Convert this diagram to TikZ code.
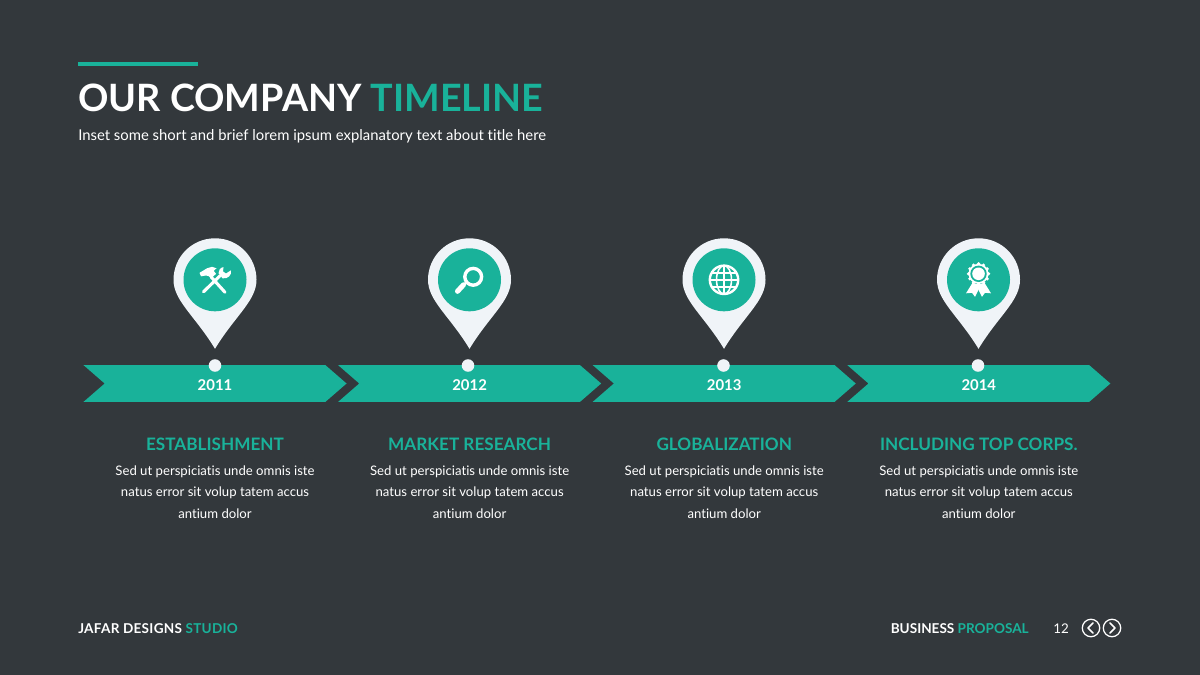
\documentclass[tikz,border=0pt]{standalone}
\usepackage{fontspec}
\setmainfont[Ligatures=NoCommon]{Lato}
\usetikzlibrary{positioning,shapes}
\definecolor{slate}{HTML}{33383C}
\definecolor{teal}{HTML}{19B29A}
\definecolor{pale}{HTML}{F0F4F8}
\newlength{\pxu}
\setlength{\pxu}{0.7087pt}
\tikzstyle{chevron}=[signal, signal from=west, signal to=east, signal pointer angle=82, fill=teal, text=white,
        inner sep=0pt, minimum width=264\pxu, minimum height=37\pxu, text height=9.6pt, text depth=0pt,
        font=\fontsize{10.6}{12}\bfseries\selectfont]
\tikzstyle{dot}=[circle, fill=pale, inner sep=0pt, minimum size=12.6\pxu]
\tikzstyle{heading}=[text=teal, inner sep=0pt, font=\fontsize{12.2}{14}\bfseries\selectfont]
\tikzstyle{blurb}=[text=white, inner sep=0pt, align=center, font=\fontsize{9.36}{15.4}\selectfont]
\tikzstyle{footer}=[text=white, inner sep=0pt, font=\fontsize{9.65}{11}\bfseries\selectfont]
\tikzstyle{navring}=[circle, draw=white, line width=0.9pt, inner sep=0pt, minimum size=17.5\pxu]
\tikzstyle{navmark}=[draw=white, line width=1.1pt, line join=round, line cap=round]
\tikzset{
  pinhead/.pic={
    \fill[pale] (-41.5,0) .. controls (-41.5,-23) and (-23,-41.5) .. (0,-41.5)
      .. controls (23,-41.5) and (41.5,-23) .. (41.5,0)
      .. controls (41.5,21) and (20,36) .. (0,69)
      .. controls (-20,36) and (-41.5,21) .. (-41.5,0) -- cycle;
    \fill[teal] (0,0) circle (31.5);
  },
  toolsicon/.pic={
    \draw[white, line width=2.2pt, line cap=round] (-4,-3) -- (10,12.5);
    \fill[white] (-15.5,-7) -- (-8,-11.5) -- (-3,-13) -- (1.5,-11.5) -- (-1.3,-9) -- (1,-6) -- (-3.7,-1.5) -- (-6.3,-3.7) -- (-9,-4.3) -- (-14,-3.5) -- cycle;
    \draw[white, line width=2.2pt, line cap=round] (-11.5,12) -- (5,-4);
    \fill[white] (3.5,-6.5) .. controls (3.5,-9.5) and (5,-12) .. (8.5,-12.8) -- (8,-8.3) -- (11,-6.3) -- (16,-9.5)
      .. controls (17,-4.5) and (12.5,-0.5) .. (7.5,-1.5) -- cycle;
  },
  searchicon/.pic={
    \draw[white, line width=2.4pt] (3.7,-3) circle (8.4);
    \draw[white, line width=1.6pt] (-2,1.8) -- (-5.5,4.5);
    \draw[white, line width=3.6pt, line cap=round] (-6,5) -- (-12,11.5);
  },
  globeicon/.pic={
    \draw[white, line width=1.7pt] (0,0) circle (14.2);
    \draw[white, line width=1.1pt] (0,0) ellipse (7.5 and 14.2);
    \draw[white, line width=1.1pt] (0,-14) -- (0,14);
    \draw[white, line width=1.1pt] (-14,0) -- (14,0);
    \draw[white, line width=1.1pt] (-12,-7) -- (12,-7);
    \draw[white, line width=1.1pt] (-12,7) -- (12,7);
  },
  awardicon/.pic={
    \fill[white] (-6,3) -- (-12.5,13.5) -- (-6.5,13) -- (-3.5,17) -- (0,10) -- (2,5) -- cycle;
    \fill[white] (6,3) -- (12.5,13.5) -- (6.5,13) -- (3.5,17) -- (0,10) -- (-2,5) -- cycle;
    \fill[white] (0,-6) circle (10);
    \foreach \a in {0,30,...,330}
      \fill[white] (\a:10) ++(0,-6) circle (1.8);
    \fill[teal] (0,-6) circle (8.2);
    \fill[white] (0,-6) circle (6.3);
  }
}
\begin{document}
\begin{tikzpicture}[x=0.025cm, y=-0.025cm]
        \useasboundingbox (0,0) rectangle (1200,675);
        \fill[slate] (0,0) rectangle (1200,675);
        % title block
        \fill[teal] (78,62.5) rectangle (198,66.5);
        \node (title) [text=white, inner sep=0pt, anchor=base west, font=\fontsize{26.8}{32}\bfseries\selectfont] at (78,112)
        {OUR COMPANY \textcolor{teal}{TIMELINE}};
        \node (subtitle) [text=white, inner sep=0pt, anchor=base west, font=\fontsize{10.57}{13}\selectfont] at (78,141)
        {Inset some short and brief lorem ipsum explanatory text about title here};
        % pins
        \pic at (215,279.8) {pinhead};
        \pic at (215,279.8) {toolsicon};
        \pic at (469.5,279.8) {pinhead};
        \pic at (469.5,279.8) {searchicon};
        \pic at (724,279.8) {pinhead};
        \pic at (724,279.8) {globeicon};
        \pic at (978.5,279.8) {pinhead};
        \pic at (978.5,279.8) {awardicon};
        % years
        \node (y2011) [chevron] at (215,383.5) {2011};
        \node (y2012) [chevron] at (469.6,383.5) {2012};
        \node (y2013) [chevron] at (724.2,383.5) {2013};
        \node (y2014) [chevron] at (978.8,383.5) {2014};
        \node (dotA) [dot] at (215,365.5) {};
        \node (dotB) [dot] at (468,365.5) {};
        \node (dotC) [dot] at (723.5,365.5) {};
        \node (dotD) [dot] at (978,365.5) {};
        % captions
        \node (headA) [heading] at (215,444) {ESTABLISHMENT};
        \node (headB) [heading] at (469.6,444) {MARKET RESEARCH};
        \node (headC) [heading] at (724.2,444) {GLOBALIZATION};
        \node (headD) [heading] at (978.8,444) {INCLUDING TOP CORPS.};
        \node (textA) [blurb, below=15pt of headA.center, anchor=north]
        {Sed ut perspiciatis unde omnis iste \\ natus error sit volup tatem accus \\ antium dolor};
        \node (textB) [blurb, below=15pt of headB.center, anchor=north]
        {Sed ut perspiciatis unde omnis iste \\ natus error sit volup tatem accus \\ antium dolor};
        \node (textC) [blurb, below=15pt of headC.center, anchor=north]
        {Sed ut perspiciatis unde omnis iste \\ natus error sit volup tatem accus \\ antium dolor};
        \node (textD) [blurb, below=15pt of headD.center, anchor=north]
        {Sed ut perspiciatis unde omnis iste \\ natus error sit volup tatem accus \\ antium dolor};
        % footer
        \node (studio) [footer, anchor=base west] at (78,633)
        {\addfontfeature{LetterSpace=2}JAFAR DESIGNS \textcolor{teal}{STUDIO}};
        \node (proposal) [footer, anchor=base east] at (1029,633)
        {BUSINESS \textcolor{teal}{PROPOSAL}};
        \node (pageno) [text=white, inner sep=0pt, anchor=base, font=\fontsize{9.5}{11}\selectfont] at (1061,633) {12};
        \node (navprev) [navring] at (1091,628) {};
        \node (navnext) [navring] at (1112,628) {};
        \draw[navmark] (1093,623) -- (1088,628) -- (1093,633);
        \draw[navmark] (1110,623) -- (1115,628) -- (1110,633);
      \end{tikzpicture}
\end{document}
